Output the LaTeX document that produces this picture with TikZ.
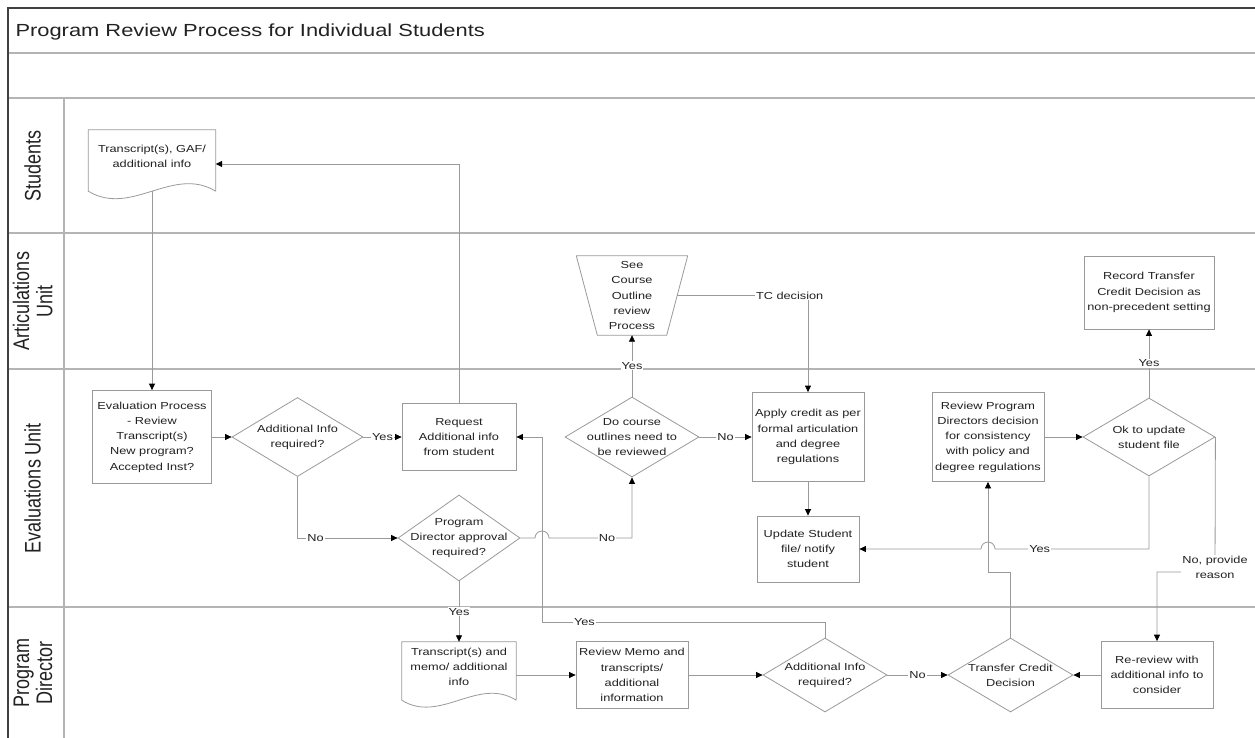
\documentclass[tikz,border=0pt]{standalone}
\usepackage{fontspec}
\setmainfont{Liberation Sans}[FakeStretch=1.25]
\newfontfamily\lanefont{Liberation Sans}
\usepackage{graphicx}
\usetikzlibrary{arrows.meta,shapes.geometric,calc}
\definecolor{shp}{HTML}{9A9A9A}
\definecolor{lanec}{HTML}{B4B4B4}
\definecolor{brd}{HTML}{404040}
\definecolor{txt}{HTML}{222222}
\newcommand\mynodefont{\fontsize{10.2}{15.2}\selectfont}
\newcommand\lanelabel[1]{\scalebox{1.25}[1]{\rotatebox{90}{\lanefont\fontsize{18}{18.5}\selectfont\begin{tabular}{@{}c@{}}#1\end{tabular}}}}
\begin{document}
\begin{tikzpicture}[x=1pt,y=-1pt,
  every node/.style={text=txt, font=\mynodefont},
  every label/.append style={align=center, inner sep=0pt},
  box/.style={draw=shp, line width=0.8pt, inner sep=0pt, align=center},
  dia/.style={diamond, draw=shp, line width=0.8pt, inner sep=0pt},
  ghost/.style={draw=none, inner sep=0pt, align=center},
  shapeline/.style={draw=shp, line width=0.8pt, line join=round},
  lbl/.style={fill=white, inner sep=1pt, align=center},
  conn/.style={draw=shp, line width=0.8pt, -{Triangle[length=6.5pt,width=6pt,color=black]}},
  laneline/.style={draw=lanec, line width=1.6pt},
  borderline/.style={draw=brd, line width=1.4pt}]
\fill[white] (0,0) rectangle (1255,738);
\useasboundingbox (0,0) rectangle (1255,738);
% frame and lanes
\draw[laneline] (8,53) -- (1255,53);
\draw[laneline] (8,98) -- (1255,98);
\draw[laneline] (8,233) -- (1255,233);
\draw[laneline] (8,369) -- (1255,369);
\draw[laneline] (8,607) -- (1255,607);
\draw[laneline] (64,98) -- (64,738);
\draw[borderline] (8,738) -- (8,8) -- (1255,8);
% title and lane labels
\node[anchor=base west, font=\fontsize{17.5}{20}\selectfont] (title) at (12,37) {Program Review Process for Individual Students};
\node (lStu) at (36,166) {\lanelabel{Students}};
\node (lArt) at (36,301) {\lanelabel{Articulations\\Unit}};
\node (lEva) at (36,488) {\lanelabel{Evaluations Unit}};
\node (lPD) at (36,673) {\lanelabel{Program\\Director}};
% students
\node[ghost, minimum width=127, minimum height=61, label={[yshift=4pt]center:{Transcript(s), GAF/\\additional info}}] (doc1) at (152,160.5) {};
\draw[shapeline] (doc1.south east) -- (doc1.north east) -- (doc1.north west) -- (doc1.south west) .. controls +(43,26) and +(-43,-26) .. (doc1.south east);
% articulations
\node[ghost, minimum width=111, minimum height=79] (trap) at (632,295.5) {See\\Course\\Outline\\review\\Process};
\draw[shapeline] (trap.north west) -- (trap.north east) -- ($(trap.south east)+(-21,0)$) -- ($(trap.south west)+(21,0)$) -- cycle;
\node[box, minimum width=130, minimum height=73] (record) at (1149,292.5) {Record Transfer\\Credit Decision as\\non-precedent setting};
% evaluations
\node[box, minimum width=119, minimum height=93] (eval) at (152,437) {Evaluation Process\\- Review\\Transcript(s)\\New program?\\Accepted Inst?};
\node[dia, minimum width=131, minimum height=79, label={center:{Additional Info\\required?}}] (d1) at (297.5,437) {};
\node[box, minimum width=114, minimum height=67] (req) at (459,437) {Request\\Additional info\\from student};
\node[dia, minimum width=122, minimum height=86, label={center:{Program\\Director approval\\required?}}] (d2) at (459,538) {};
\node[dia, minimum width=134, minimum height=80, label={center:{Do course\\outlines need to\\be reviewed}}] (d3) at (632,437) {};
\node[box, minimum width=112, minimum height=89] (apply) at (808,437) {Apply credit as per\\formal articulation\\and degree\\regulations};
\node[box, minimum width=102, minimum height=66] (update) at (808,549) {Update Student\\file/ notify\\student};
\node[box, minimum width=112, minimum height=89] (revpd) at (988,437) {Review Program\\Directors decision\\for consistency\\with policy and\\degree regulations};
\node[dia, minimum width=132, minimum height=78, label={center:{Ok to update\\student file}}] (ok) at (1149,437) {};
% program director
\node[ghost, minimum width=114, minimum height=58, label={[yshift=4pt]center:{Transcript(s) and\\memo/ additional\\info}}] (doc2) at (459,671) {};
\draw[shapeline] (doc2.south east) -- (doc2.north east) -- (doc2.north west) -- (doc2.south west) .. controls +(38,24) and +(-38,-24) .. (doc2.south east);
\node[box, minimum width=112, minimum height=67] (revmemo) at (632,675) {Review Memo and\\transcripts/\\additional\\information};
\node[dia, minimum width=124, minimum height=74, label={center:{Additional Info\\required?}}] (dadd2) at (825,675) {};
\node[dia, minimum width=125, minimum height=74, label={center:{Transfer Credit\\Decision}}] (tcd) at (1010.5,675) {};
\node[box, minimum width=112, minimum height=67] (rerev) at (1157,675) {Re-review with\\additional info to\\consider};
% connectors
\draw[conn] (doc1.south) -- (eval.north);
\draw[conn] (eval) -- (d1);
\draw[conn] (d1) -- node[lbl]{Yes} (req);
\draw[conn] (req.north) |- ($(doc1.east)+(0,3.5)$);
\draw[conn] (d1.south) |- node[lbl,pos=0.59]{No} (d2.west);
\draw[conn] (d2.east) -- (535,538) .. controls (535,534.1) and (538.1,531) .. (542,531) .. controls (545.9,531) and (549,534.1) .. (549,538) -- node[lbl,pos=0.70]{No} (632,538) -- (d3.south);
\draw[conn] (d3) -- node[lbl]{Yes} (trap.south);
\draw[conn] (d3) -- node[lbl]{No} (apply);
\coordinate (trapR) at ($(trap.east)+(-10.5,0)$);
\draw[conn] (trapR) -- node[lbl,pos=0.86]{TC decision} (apply.north |- trapR) -- (apply.north);
\draw[conn] (apply) -- (update);
\draw[conn] (revpd) -- (ok);
\draw[conn] (ok) -- node[lbl]{Yes} (record);
\draw[conn] (ok.south) -- (ok.south |- update.east) -- node[lbl,pos=0.71]{Yes} (995,549) .. controls (995,545.1) and (991.9,542) .. (988,542) .. controls (984.1,542) and (981,545.1) .. (981,549) -- (update.east);
\draw[conn] (ok.east) -- node[lbl,pos=0.967]{No, provide\\reason} (1215,572) -- (1157,572) -- (rerev.north);
\draw[conn] (rerev) -- (tcd);
\draw[conn] (tcd.north) -- (1010.5,572) -- (988,572) -- (revpd.south);
\draw[conn] (d2) -- node[lbl]{Yes} (doc2.north);
\draw[conn] (doc2.east |- revmemo.west) -- (revmemo.west);
\draw[conn] (revmemo) -- (dadd2);
\draw[conn] (dadd2) -- node[lbl]{No} (tcd);
\draw[conn] (dadd2.north) -- (825,622) -- node[lbl,pos=0.85]{Yes} (542,622) -- (542,437) -- (req.east);
\end{tikzpicture}
\end{document}
